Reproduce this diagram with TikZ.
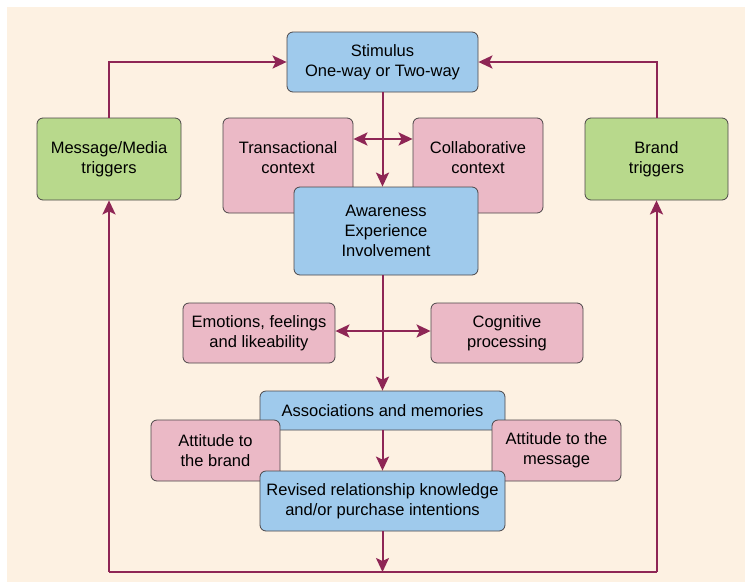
\documentclass[tikz,border=0pt]{standalone}
\usepackage{fontspec}
\setmainfont{Liberation Sans}
\usepackage{tikz}
\usetikzlibrary{arrows.meta,positioning,calc}
\definecolor{rmCream} {RGB}{253,241,226}
\definecolor{rmBlue}  {RGB}{159,202,236}
\definecolor{rmPink}  {RGB}{235,185,198}
\definecolor{rmGreen} {RGB}{184,217,140}
\definecolor{rmMaroon}{RGB}{142, 38, 85}
\definecolor{rmEdge}  {RGB}{ 75, 70, 72}

\begin{document}
\begin{tikzpicture}[x=1pt,y=-1pt,
    every node/.style={font=\fontsize{16.5}{20}\selectfont},
    box/.style={rectangle,rounded corners=6pt,align=center,draw=rmEdge,
                line width=0.8pt,inner sep=0pt},
    blueB/.style={box,fill=rmBlue},
    pinkB/.style={box,fill=rmPink},
    greenB/.style={box,fill=rmGreen},
    link/.style={line width=2pt,rmMaroon},
    arr/.style={link,-{Stealth[length=14pt,width=13pt,inset=3pt]}},
    darr/.style={link,{Stealth[length=14pt,width=13pt,inset=3pt]}-{Stealth[length=14pt,width=13pt,inset=3pt]}}
  ]
  \useasboundingbox (0,0) rectangle (745,582);
  \fill[rmCream] (7,7) rectangle (745,582);
  % Top row: stimulus and triggers
  \node[blueB,minimum width=191pt,minimum height=60pt] (stim) at (382.5,62)
        {Stimulus\\One-way or Two-way};
  \node[greenB,minimum width=144pt,minimum height=82pt] (msg) at (109,159)
        {Message/Media\\triggers};
  \node[greenB,minimum width=143pt,minimum height=82pt] (brand) at (656.5,159)
        {Brand\\triggers};
  % Context boxes, awareness on top
  \node[pinkB,minimum width=130pt,minimum height=95pt] (trans) at (288,165.5)
        {Transactional\\context\rule[-15pt]{0pt}{15pt}};
  \node[pinkB,minimum width=130pt,minimum height=95pt] (collab) at (478,165.5)
        {Collaborative\\context\rule[-15pt]{0pt}{15pt}};
  \node[blueB,minimum width=184pt,minimum height=88pt] (aware) at (386,231)
        {Awareness\\Experience\\Involvement};
  % Processing
  \node[pinkB,minimum width=152pt,minimum height=60pt] (emo) at (259,333)
        {Emotions, feelings\\and likeability};
  \node[pinkB,minimum width=152pt,minimum height=60pt] (cog) at (507,333)
        {Cognitive\\processing};
  % Bottom stack
  \node[blueB,minimum width=245pt,minimum height=39pt] (assoc) at (382.5,410.5)
        {Associations and memories};
  \node[pinkB,minimum width=129pt,minimum height=61pt] (attb) at (215.5,450.5)
        {Attitude to\\the brand};
  \node[pinkB,minimum width=129pt,minimum height=61pt] (attm) at (556.5,450.5)
        {Attitude to the\\message};
  \node[blueB,minimum width=245pt,minimum height=60pt] (rev) at (382.5,501)
        {Revised relationship knowledge\\and/or purchase intentions};
  % Feedback loop
  \coordinate (bl) at (109,572);
  \coordinate (bm) at (382.5,572);
  \coordinate (br) at (656.5,572);
  % Arrows
  \draw[arr] (msg.north) |- (stim.west);
  \draw[arr] (brand.north) |- (stim.east);
  \draw[arr] (stim.south) -- (stim.south |- aware.north);
  \draw[darr] ([yshift=26.5pt]trans.east) -- ([yshift=26.5pt]collab.west);
  \draw[arr] (stim.south |- aware.south) -- (assoc.north);
  \draw[darr] ([yshift=2pt]emo.east) -- ([yshift=2pt]cog.west);
  \draw[arr] (assoc.south) -- (rev.north);
  \draw[arr] (rev.south) -- (bm);
  \draw[link] (bl) -- (br);
  \draw[arr] (bl) -- (msg.south);
  \draw[arr] (br) -- (brand.south);
\end{tikzpicture}
\end{document}
